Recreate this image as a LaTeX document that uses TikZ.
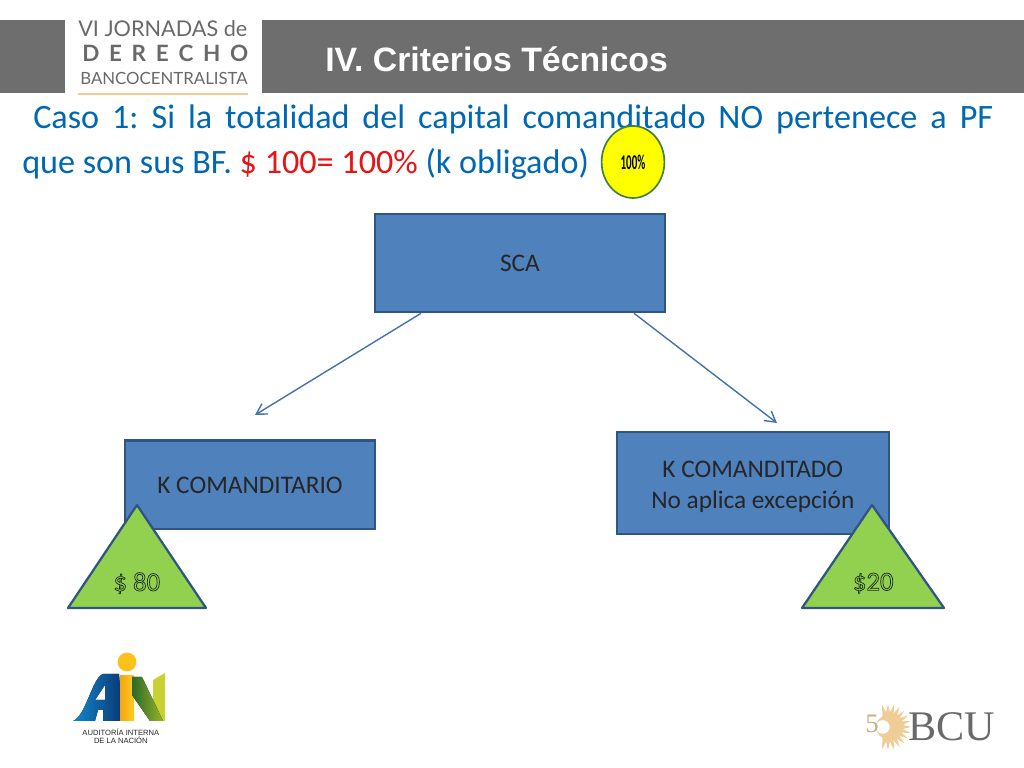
\documentclass[tikz,border=0pt]{standalone}
\usepackage{fontspec}
\usepackage{tikz}
\usetikzlibrary{shapes.geometric, arrows.meta}
\setmainfont{Carlito}
\newfontfamily\titlefont{Liberation Sans}
\newfontfamily\bcufont{Liberation Serif}
\newfontfamily\logofont{Lato}
\definecolor{banda}{RGB}{111, 110, 110}
\definecolor{caja}{RGB}{79, 129, 189}
\definecolor{borde}{RGB}{47, 85, 130}
\definecolor{flechazul}{RGB}{68, 114, 170}
\definecolor{azultexto}{RGB}{0, 104, 178}
\definecolor{rojotexto}{RGB}{230, 20, 20}
\definecolor{verdetri}{RGB}{146, 208, 80}
\definecolor{amarillo}{RGB}{255, 255, 0}
\definecolor{oro}{RGB}{240, 205, 150}
\definecolor{grislogo}{RGB}{105, 105, 105}
\definecolor{ainazul}{RGB}{20, 135, 205}
\definecolor{ainmarino}{RGB}{10, 55, 115}
\definecolor{ainnaranja}{RGB}{245, 165, 20}
\definecolor{ainyema}{RGB}{255, 205, 30}
\definecolor{ainverde}{RGB}{45, 105, 35}
\definecolor{ainpasto}{RGB}{150, 180, 45}
\definecolor{ainlima}{RGB}{200, 210, 50}
\newcommand{\hueco}[1]{\special{pdf:code q 1 Tr 0.5 w 0.1 0.17 0.1 RG}#1\special{pdf:code Q}}
\newcommand{\baja}[2][0.4pt]{\raisebox{-#1}[\height][\depth]{#2}}
\tikzset{
    cajaazul/.style={draw=borde, fill=caja, line width=1.6pt, minimum width=#1, align=center, font=\fontsize{18}{22}\selectfont, text=black!85},
    triverde/.style={draw=borde, fill=verdetri, line width=1.6pt, line join=round},
    flecha/.style={draw=flechazul, line width=1pt, -{Straight Barb[length=2.6mm, width=3mm]}},
    etiqtri/.style={font=\fontsize{19}{22}\selectfont, text=black},
}
\begin{document}
\begin{tikzpicture}
            \useasboundingbox (0, 0) rectangle (25.6, 19.2);
            % banda de titulo
            \fill[banda] (0.00, 16.875) rectangle (1.625, 18.70);
            \fill[banda] (6.55, 16.875) rectangle (25.60, 18.70);
            \node[text=white, anchor=west, inner sep=0, font=\titlefont\bfseries\fontsize{24.05}{28}\selectfont] (titulo) at (8.125, 17.72) {IV. Criterios Técnicos};
            % logo jornadas
            \node[anchor=west, inner sep=0, text=grislogo, font=\logofont\fontsize{15.4}{16}\selectfont] (jornadas) at (1.95, 18.48) {VI JORNADAS de};
            \node[anchor=west, inner sep=0, text=grislogo, font=\logofont\bfseries\fontsize{16}{18}\selectfont] (derecho) at (2.05, 17.875) {D\kern6.9pt E\kern6.9pt R\kern6.9pt E\kern6.9pt C\kern6.9pt H\kern6.9pt O};
            \node[anchor=west, inner sep=0, text=grislogo, font=\logofont\fontsize{11.95}{13}\selectfont] (banco) at (2.00, 17.25) {BANCOCENTRALISTA};
            \draw[oro, line width=0.8pt] (1.95, 16.85) -- (6.20, 16.85);
            % texto
            \node[anchor=north west, inner sep=0, text width=24.275cm, align=justify, text=azultexto, font=\fontsize{24.3}{32}\selectfont] (caso) at (0.55, 16.58)
                {\frenchspacing\hspace*{0.275cm}Caso 1: Si la totalidad del capital comanditado NO pertenece a PF\linebreak que son sus BF. \textcolor{rojotexto}{\$ 100= 100\%} (k obligado)};
            \node[ellipse, draw=black!50!green!50!gray, fill=amarillo, line width=1.2pt, minimum width=1.57cm, minimum height=1.8cm, inner sep=0, font=\bfseries\fontsize{15}{16}\selectfont] (cien) at (15.825, 15.15) {\scalebox{0.52}[1]{100\%}};
            % cajas
            \node[cajaazul=7.25cm, minimum height=2.45cm] (sca) at (13.00, 12.62) {\baja[0.4pt]{SCA}};
            \node[cajaazul=6.25cm, minimum height=2.22cm] (comanditario) at (6.25, 7.08) {\baja{K COMANDITARIO}};
            \node[cajaazul=6.80cm, minimum height=2.55cm] (comanditado) at (18.82, 7.12) {\baja[2.6pt]{K COMANDITADO}\\\baja[2.6pt]{No aplica excepción}};
            \coordinate (puntaizq) at (6.375, 8.825);
            \coordinate (puntader) at (19.425, 8.625);
            \draw[flecha] ([xshift=-2.475cm]sca.south) -- (puntaizq);
            \draw[flecha] ([xshift=2.85cm]sca.south) -- (puntader);
            % triangulos
            \filldraw[triverde] (3.425, 6.575) -- (1.70, 4.00) -- (5.15, 4.00) -- cycle;
            \filldraw[triverde] (21.80, 6.575) -- (20.05, 4.00) -- (23.60, 4.00) -- cycle;
            \node[etiqtri] (ochenta) at (3.42, 4.62) {\hueco{\$ 80}};
            \node[etiqtri] (veinte) at (21.83, 4.62) {\hueco{\$20}};
            % logo ain
            \fill[even odd rule, left color=ainazul, right color=ainmarino] (1.825, 1.175) .. controls (2.15, 1.30) and (2.30, 2.25) .. (2.575, 2.35) -- (2.975, 2.35) -- (3.075, 1.175) -- (2.575, 1.175) -- (2.575, 1.45) -- (2.45, 1.45) -- (2.375, 1.175) -- cycle
                (2.375, 1.70) -- (2.625, 1.70) -- (2.625, 2.075) -- cycle;
            \fill[left color=ainnaranja, right color=ainyema] (3.00, 2.30) -- (3.35, 2.30) -- (3.35, 1.175) -- (3.00, 1.175) -- cycle;
            \fill[ainyema!70!ainnaranja] (3.175, 2.65) circle (0.235);
            \fill[ainlima] (3.825, 2.20) -- (4.125, 2.375) -- (4.125, 1.175) -- (3.825, 1.175) -- cycle;
            \fill[left color=ainverde, right color=ainpasto] (3.30, 2.275) -- (3.55, 2.275) -- (4.075, 1.175) -- (3.75, 1.175) -- (3.30, 1.825) -- cycle;
            \node[inner sep=0, align=center, text=black!85, font=\titlefont\fontsize{5.4}{6}\selectfont] (auditoria) at (3.02, 0.80) {AUDITORÍA INTERNA\\DE LA NACIÓN};
            % logo bcu
            \foreach \ang in {-105, -90, ..., 105}
                \fill[oro, rotate around={\ang:(22.20, 1.025)}] (22.45, 0.95) -- (22.78, 1.025) -- (22.45, 1.10) -- cycle;
            \fill[oro] (22.20, 1.025) circle (0.30);
            \fill[white] (22.07, 1.025) circle (0.17);
            \node[inner sep=0, text=oro!85!black, font=\bcufont\fontsize{19}{20}\selectfont] (cincuenta) at (21.80, 1.10) {5};
            \node[anchor=west, inner sep=0, text=grislogo, font=\bcufont\fontsize{30}{30}\selectfont] (bcu) at (22.70, 1.03) {BCU};
\end{tikzpicture}
\end{document}
